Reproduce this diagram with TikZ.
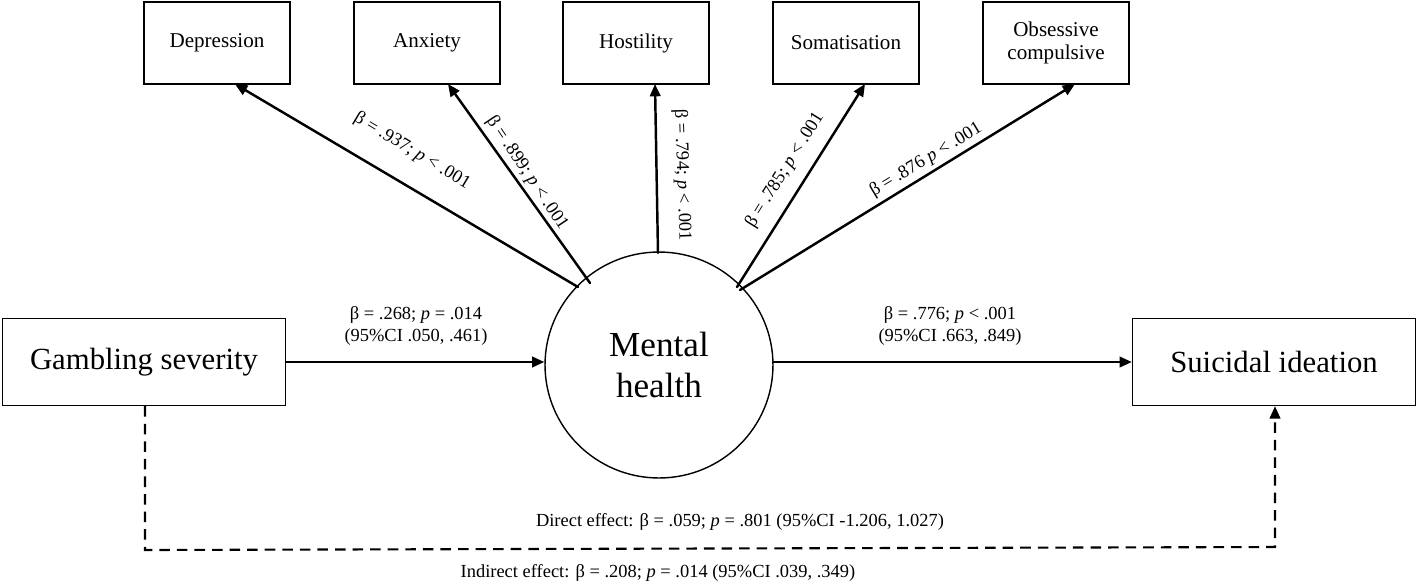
\documentclass[tikz,border=0pt]{standalone}
\usepackage{fontspec}
\setmainfont{Liberation Serif}
\usetikzlibrary{arrows.meta,shapes.geometric}
\begin{document}
\begin{tikzpicture}[x=0.02cm,y=-0.02cm,
  box/.style={draw,thick,minimum width=2.92cm,minimum height=1.64cm,font=\fontsize{12}{13.5}\selectfont,align=center,inner sep=1pt},
  bigbox/.style={draw,thick,minimum width=5.66cm,minimum height=1.74cm,font=\fontsize{17.5}{20}\selectfont},
  arr/.style={-{Triangle[length=7pt,width=6pt]},line width=1.4pt,line cap=round},
  lab/.style={font=\fontsize{10.5}{12}\selectfont,inner sep=1pt}]
\useasboundingbox (0,0) rectangle (1418,586);
\node[box] (dep) at (217,43) {Depression};
\node[box] (anx) at (427,43) {Anxiety};
\node[box] (hos) at (636,43) {Hostility};
\node[box] (som) at (846,43) {Somatisation};
\node[box] (obs) at (1056,43) {Obsessive\\compulsive};
\node[bigbox] (gam) at (144,362) {Gambling severity};
\node[bigbox] (sui) at (1274,362) {Suicidal ideation};
\node[draw,thick,ellipse,inner sep=0pt,minimum width=4.56cm,minimum height=4.52cm,align=center,font=\fontsize{20}{23}\selectfont] (mh) at (659,365) {Mental\\health};
\coordinate (c1) at (578,287); \coordinate (c2) at (590,283);
\coordinate (c3) at (658,253); \coordinate (c4) at (737,287); \coordinate (c5) at (740,290);
\draw[arr] (c1) -- (235,84);
\draw[arr] (c2) -- (448,84);
\draw[arr] (c3) -- (655,84);
\draw[arr] (c4) -- (865,84);
\draw[arr] (c5) -- (1075,84);
\node[lab,rotate=-31] at (412,151) {β = .937; \textit{p} < .001};
\node[lab,rotate=-56] at (527,173) {β = .899; \textit{p} < .001};
\node[lab,rotate=-88] at (682,175) {β = .794; \textit{p} < .001};
\node[lab,rotate=58] at (785,170) {β = .785; \textit{p} < .001};
\node[lab,rotate=31] at (926,160) {β = .876 \textit{p} < .001};
\draw[arr] (gam.east |- 0,362) -- (mh.west |- 0,362);
\draw[arr] (mh.east |- 0,362) -- (sui.west |- 0,362);
\node[lab,align=center] at (416,326) {β = .268; \textit{p} = .014\\(95\%CI .050, .461)};
\node[lab,align=center] at (950,326) {β = .776; \textit{p} < .001\\(95\%CI .663, .849)};
\coordinate (d1) at (145,550); \coordinate (d2) at (1275,547);
\draw[dash pattern=on 6pt off 4pt,line width=1.2pt,-{Triangle[length=7pt,width=6pt]}] (gam.south -| 145,0) -- (d1) -- (d2) -- (sui.south -| 1275,0);
\node[lab] at (740,522) {Direct effect: β = .059; \textit{p} = .801 (95\%CI -1.206, 1.027)};
\node[lab] at (658,573) {Indirect effect: β = .208; \textit{p} = .014 (95\%CI .039, .349)};
\end{tikzpicture}
\end{document}
